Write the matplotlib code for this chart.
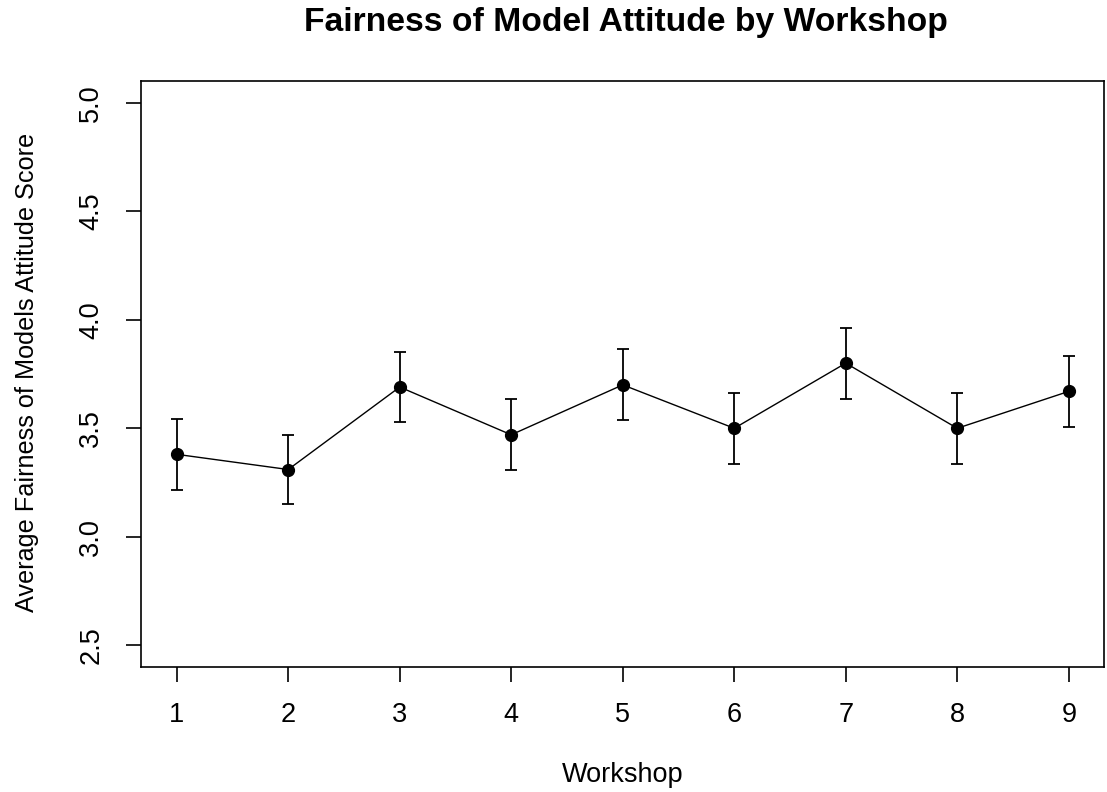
import numpy as np
import matplotlib
matplotlib.use("Agg")
from matplotlib import pyplot as plt

workshops = [1, 2, 3, 4, 5, 6, 7, 8, 9]
mean_scores = [3.38, 3.31, 3.69, 3.47, 3.70, 3.50, 3.80, 3.50, 3.67]
err_half = [0.163, 0.160, 0.160, 0.163, 0.163, 0.164, 0.163, 0.164, 0.163]
y_ticks = [2.5, 3.0, 3.5, 4.0, 4.5, 5.0]

plt.rcParams['font.family'] = ['Liberation Sans', 'DejaVu Sans']

fig = plt.figure(figsize=(11.07, 7.92), dpi=100)
ax = fig.add_axes([0.1274, 0.1578, 0.8703, 0.7399])

ax.errorbar(workshops, mean_scores, yerr=err_half, fmt='-o', color='black',
            lw=1.0, ms=8.5, capsize=4.5, elinewidth=1.3, capthick=1.3)

# R style 4% axis padding
ax.set_xlim(1 - 0.32, 9 + 0.32)
ax.set_ylim(2.5 - 0.1, 5.0 + 0.1)
ax.set_xticks(workshops)
ax.set_yticks(y_ticks)
ax.set_yticklabels([f"{t:.1f}" for t in y_ticks], rotation=90, va='center')
ax.tick_params(direction='out', length=10.5, width=1.2, labelsize=19.5)
ax.tick_params(axis='x', pad=14.5)
ax.tick_params(axis='y', pad=16)
for s in ax.spines.values():
    s.set_linewidth(1.2)

ax.set_xlabel("Workshop", fontsize=19.5)
ax.xaxis.set_label_coords(0.5, -0.162)
ax.set_ylabel("Average Fairness of Models Attitude Score", fontsize=18.2)
ax.yaxis.set_label_coords(-0.106, 0.502)
fig.suptitle("Fairness of Model Attitude by Workshop", fontsize=24.2, fontweight='bold',
             x=0.565, y=0.991)

fig.savefig("out.png", dpi=100)
plt.close()
